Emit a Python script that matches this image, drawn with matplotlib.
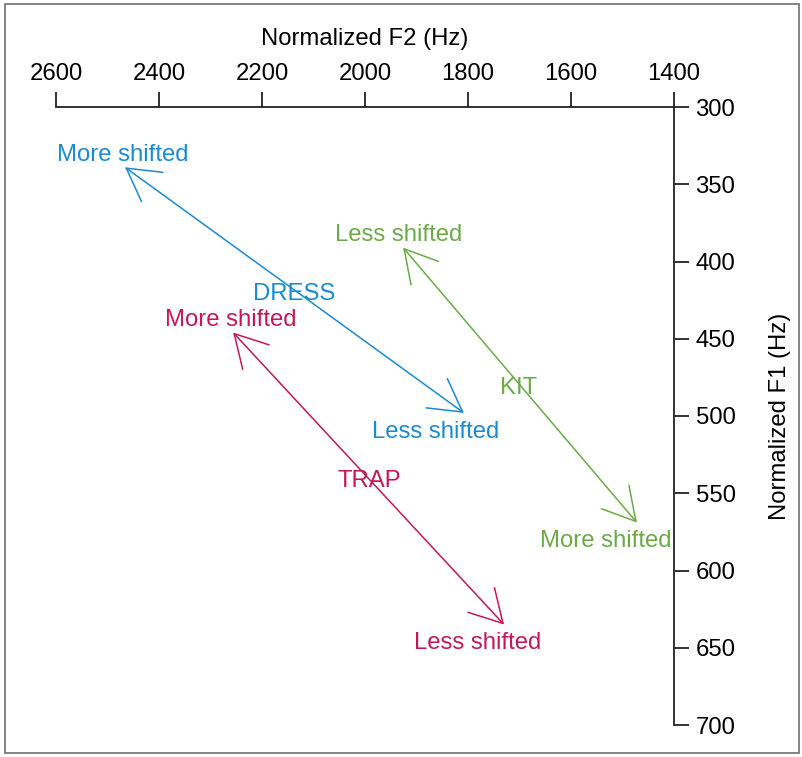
import matplotlib
matplotlib.use("Agg")
import matplotlib.pyplot as plt
from matplotlib.patches import Rectangle

plt.rcParams['font.family'] = ['Liberation Sans', 'DejaVu Sans']

# DATA
vowels = ['DRESS', 'KIT', 'TRAP']
colors = ['#1a8ad2', '#6aab47', '#c2185b']

# arrow ends (F2, F1)
more_f2 = [2466, 1472, 2256]
more_f1 = [339, 569, 446]
less_f2 = [1808, 1926, 1730]
less_f1 = [498, 391, 635]

# text positions (baseline)
vowel_lab_f2 = [2138, 1701, 1992]
vowel_lab_f1 = [425, 486, 546]
more_lab_f2 = [2470, 1532, 2260]
more_lab_f1 = [335, 585, 442]
less_lab_f2 = [1862, 1934, 1782]
less_lab_f1 = [514, 387, 651]

x_ticks = [2600, 2400, 2200, 2000, 1800, 1600, 1400]
y_ticks = [300, 350, 400, 450, 500, 550, 600, 650, 700]

fs = 17.2

# PLOTTING
fig = plt.figure(figsize=(8.03, 7.57), dpi=100)
ax = fig.add_axes([56 / 803, 1 - 725 / 757, 618 / 803, 618 / 757])

ax.set_xlim(2600, 1400)
ax.set_ylim(700, 300)

for i in range(len(vowels)):
    c = colors[i]
    ax.annotate('', xy=(less_f2[i], less_f1[i]), xytext=(more_f2[i], more_f1[i]),
                arrowprops=dict(arrowstyle='<->,head_length=2.3,head_width=1.3',
                                mutation_scale=10, color=c, lw=1.1,
                                shrinkA=0, shrinkB=0))
    ax.text(vowel_lab_f2[i], vowel_lab_f1[i], vowels[i], color=c, fontsize=fs,
            ha='center', va='baseline')
    ax.text(more_lab_f2[i], more_lab_f1[i], 'More shifted', color=c, fontsize=fs,
            ha='center', va='baseline')
    ax.text(less_lab_f2[i], less_lab_f1[i], 'Less shifted', color=c, fontsize=fs,
            ha='center', va='baseline')

# AXES
for s in ['left', 'bottom']:
    ax.spines[s].set_visible(False)
for s in ['top', 'right']:
    ax.spines[s].set_linewidth(1.3)
    ax.spines[s].set_color('#222222')
ax.xaxis.tick_top()
ax.yaxis.tick_right()
ax.xaxis.set_label_position('top')
ax.yaxis.set_label_position('right')
ax.set_xticks(x_ticks)
ax.set_yticks(y_ticks)
ax.tick_params(axis='both', length=10.5, width=1.3, color='#222222', labelsize=fs)
ax.tick_params(axis='x', pad=5.7)
ax.tick_params(axis='y', pad=5)
ax.set_xlabel('Normalized F2 (Hz)', fontsize=fs, labelpad=12.6)
ax.set_ylabel('Normalized F1 (Hz)', fontsize=fs, labelpad=24)

# frame round the figure
fig.patches.append(Rectangle((5 / 803, 4 / 757), 794 / 803, 749 / 757,
                             transform=fig.transFigure, fill=False,
                             edgecolor='#707070', lw=1.2))

fig.savefig('out.png', dpi=100)
